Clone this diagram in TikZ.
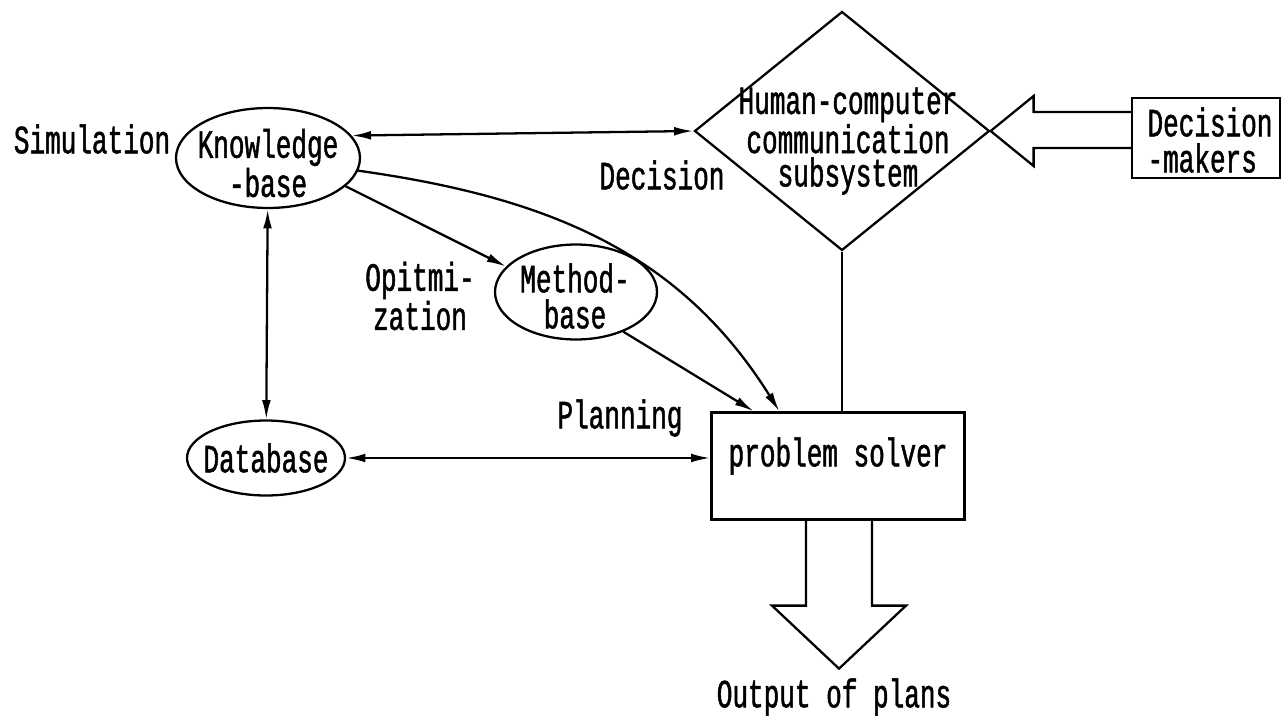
\documentclass[tikz,border=0pt]{standalone}
\usepackage{fontspec}
\usepackage{tikz}
\usetikzlibrary{shapes.geometric,arrows.meta,calc}
\newfontfamily\typefont[FakeStretch=0.65,FakeBold=1.2]{Liberation Mono}

\begin{document}
\begin{tikzpicture}[x=0.02cm,y=-0.02cm,line width=1.3pt,>={Latex[length=11pt,width=5pt]},
txt/.style={font=\typefont\fontsize{22.8}{20.5}\selectfont,align=center,inner sep=0pt},
oval/.style={draw,ellipse,inner sep=0pt}]
\useasboundingbox(0,0)rectangle(1283,716);
% shapes
\node[oval,minimum width=3.68cm,minimum height=2cm](kb)at(268,158){};
\node[oval,minimum width=3.24cm,minimum height=1.9cm](mb)at(576,292){};
\node[oval,minimum width=3.16cm,minimum height=1.5cm](db)at(266,458){};
\node[draw,diamond,minimum width=5.9cm,minimum height=4.78cm,inner sep=0pt](hcc)at(842,131){};
\node[draw,minimum width=2.96cm,minimum height=1.6cm,inner sep=0pt](dm)at(1206,138){};
\node[draw,minimum width=5.06cm,minimum height=2.14cm,inner sep=0pt](ps)at(838,466){};
% texts
\node[txt](kbt)at(268,163){Knowledge\\-base};
\node[txt](mbt)at(575,296){Method-\\base};
\node[txt](dbt)at(266,458){Database};
\node[txt,font=\typefont\fontsize{22.8}{19}\selectfont](hcct)at(848,141){Human-computer\\communication\\subsystem};
\node[txt,align=left](dmt)at(1210,140){Decision\\-makers};
\node[txt](pst)at(838,456){problem solver};
\node[txt](sim)at(92,139){Simulation};
\node[txt](dec)at(662,175){Decision};
\node[txt](opt)at(420,296){Opitmi-\\zation};
\node[txt](pla)at(620,418){Planning};
\node[txt](out)at(834,697){Output of plans};
% connectors
\draw[<->](kb.15)--(hcc.west);
\draw[->](kb.-8)to[out=-8,in=122](ps.137);
\draw[->](kb.-20)--(mb.160);
\draw[->](mb.-40)--(ps.147);
\draw[<->](kb)--(db);
\draw[<->](db.east)--(db.east-|ps.west);
\draw(hcc.south)--(hcc.south|-ps.north);
% hollow arrows
\coordinate(up)at($(hcc.east)+(43,-19)$);\coordinate(lo)at($(hcc.east)+(43,17)$);
\draw(hcc.east)--++(43,-35)--(up)--(up-|dm.west);
\draw(hcc.east)--++(43,35)--(lo)--(lo-|dm.west);
\draw($(ps.south)+(-32,0)$)--++(0,85)--++(-34,0)--++(67,63)--++(67,-63)--++(-34,0)--++(0,-85);
\end{tikzpicture}
\end{document}
